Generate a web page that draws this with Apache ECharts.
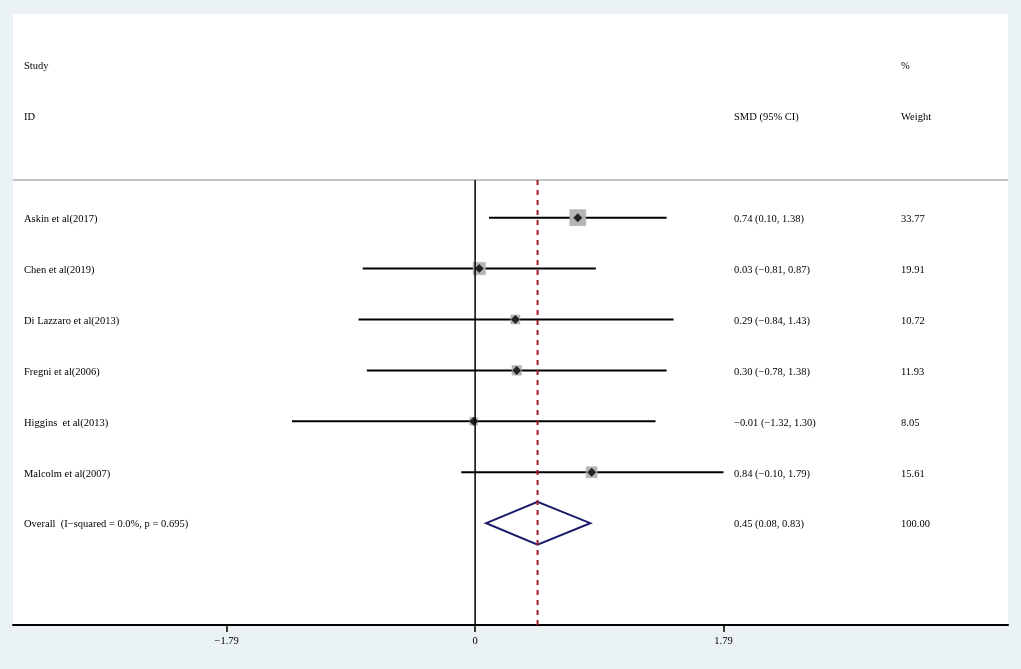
<!DOCTYPE html>
<html>
<head>
<meta charset="utf-8">
<script src="https://cdn.jsdelivr.net/npm/echarts@6/dist/echarts.min.js"></script>
<style>
  html, body { margin: 0; padding: 0; background: #eaf2f3; }
  #main { width: 1021px; height: 669px; }
</style>
</head>
<body>
<div id="main"></div>
<script>
// study data
var studies = ['Askin et al(2017)', 'Chen et al(2019)', 'Di Lazzaro et al(2013)', 'Fregni et al(2006)', 'Higgins  et al(2013)', 'Malcolm et al(2007)'];
var smd = [0.74, 0.03, 0.29, 0.30, -0.01, 0.84];
var lower = [0.10, -0.81, -0.84, -0.78, -1.32, -0.10];
var upper = [1.38, 0.87, 1.43, 1.38, 1.30, 1.79];
var weight = [33.77, 19.91, 10.72, 11.93, 8.05, 15.61];

var overallLabel = 'Overall  (I\u2212squared = 0.0%, p = 0.695)';
var overallSmd = 0.45;
var overallLower = 0.08;
var overallUpper = 0.83;
var overallWeight = 100.00;

var tickValues = [-1.79, 0, 1.79];

// layout rows (y axis runs 0 at top to 12 at bottom)
var firstRow = 4;
var overallRow = firstRow + studies.length;
var sepRow = 3.26;
var xMin = -3.33, xMax = 3.84;

function fmt(v) {
  return v.toFixed(2).replace('-', '\u2212');
}

// text rows: [row, col1, col2, col3]
var textRows = [
  [1, 'Study', '', '%'],
  [2, 'ID', 'SMD (95% CI)', 'Weight']
];
studies.forEach(function (s, i) {
  textRows.push([firstRow + i, s, fmt(smd[i]) + ' (' + fmt(lower[i]) + ', ' + fmt(upper[i]) + ')', weight[i].toFixed(2)]);
});
textRows.push([overallRow, overallLabel, fmt(overallSmd) + ' (' + fmt(overallLower) + ', ' + fmt(overallUpper) + ')', overallWeight.toFixed(2)]);

var colOffsets = [11, 721, 888];
var font = '10.5px "Liberation Serif", "Times New Roman", serif';

var myChart = echarts.init(document.getElementById('main'));
var option = {
  backgroundColor: '#eaf2f3',
  animation: false,
  grid: {
    left: 13, right: 13, top: 14, bottom: 44,
    show: true, backgroundColor: '#fff', borderWidth: 0
  },
  xAxis: {
    type: 'value',
    min: xMin,
    max: xMax,
    axisLine: { show: true, onZero: false, lineStyle: { color: '#000', width: 2 } },
    axisTick: { show: true, customValues: tickValues, length: 7, lineStyle: { color: '#000', width: 1.5 } },
    axisLabel: {
      customValues: tickValues,
      margin: 11,
      color: '#000',
      fontFamily: '"Liberation Serif", "Times New Roman", serif',
      fontSize: 10.5,
      formatter: function (v) { return v === 0 ? '0' : fmt(v); }
    },
    splitLine: { show: false }
  },
  yAxis: {
    type: 'value',
    inverse: true,
    min: 0,
    max: 12,
    show: false
  },
  series: [
    // header separator
    {
      type: 'line',
      data: [[xMin, sepRow], [xMax, sepRow]],
      symbol: 'none',
      lineStyle: { color: '#c4c4c4', width: 2 },
      silent: true
    },
    // no-effect line
    {
      type: 'line',
      data: [[0, sepRow], [0, 12]],
      symbol: 'none',
      lineStyle: { color: '#000', width: 1.5 },
      silent: true
    },
    // confidence intervals
    {
      type: 'custom',
      data: studies.map(function (s, i) { return [lower[i], upper[i], firstRow + i]; }),
      encode: { x: [0, 1], y: 2 },
      renderItem: function (params, api) {
        var a = api.coord([api.value(0), api.value(2)]);
        var b = api.coord([api.value(1), api.value(2)]);
        return {
          type: 'line',
          shape: { x1: a[0], y1: a[1], x2: b[0], y2: b[1] },
          style: { stroke: '#000', lineWidth: 2 }
        };
      }
    },
    // pooled estimate dashed line
    {
      type: 'line',
      data: [[overallSmd, sepRow], [overallSmd, 12]],
      symbol: 'none',
      lineStyle: { color: '#a51c30', width: 2, type: [5, 5] },
      silent: true
    },
    // weight boxes
    {
      type: 'custom',
      data: studies.map(function (s, i) { return [smd[i], firstRow + i, weight[i]]; }),
      encode: { x: 0, y: 1 },
      renderItem: function (params, api) {
        var c = api.coord([api.value(0), api.value(1)]);
        var side = 2.75 * Math.sqrt(api.value(2));
        return {
          type: 'rect',
          shape: { x: c[0] - side / 2, y: c[1] - side / 2, width: side, height: side },
          style: { fill: '#b5b5b5', stroke: '#a8a8a8', lineWidth: 0.5 }
        };
      }
    },
    // point estimates
    {
      type: 'scatter',
      data: studies.map(function (s, i) { return [smd[i], firstRow + i]; }),
      symbol: 'diamond',
      symbolSize: [9, 9],
      itemStyle: { color: '#000' },
      silent: true
    },
    // overall diamond
    {
      type: 'custom',
      data: [[overallLower, overallSmd, overallUpper, overallRow]],
      encode: { x: [0, 2], y: 3 },
      renderItem: function (params, api) {
        var r = api.value(3), h = 0.42;
        var pts = [
          api.coord([api.value(0), r]),
          api.coord([api.value(1), r - h]),
          api.coord([api.value(2), r]),
          api.coord([api.value(1), r + h])
        ];
        return {
          type: 'polygon',
          shape: { points: pts },
          style: { fill: 'none', stroke: '#1b1b6b', lineWidth: 2 }
        };
      }
    },
    // text columns
    {
      type: 'custom',
      data: textRows.map(function (t) { return [0, t[0]]; }),
      encode: { x: 0, y: 1 },
      clip: false,
      renderItem: function (params, api) {
        var row = textRows[params.dataIndex];
        var y = api.coord([0, api.value(1)])[1] + 1.5;
        var x0 = params.coordSys.x;
        return {
          type: 'group',
          children: [1, 2, 3].map(function (k) {
            return {
              type: 'text',
              style: {
                text: row[k], x: x0 + colOffsets[k - 1], y: y,
                font: font, fill: '#000', verticalAlign: 'middle', align: 'left'
              }
            };
          })
        };
      }
    }
  ]
};
myChart.setOption(option);
</script>
</body>
</html>
